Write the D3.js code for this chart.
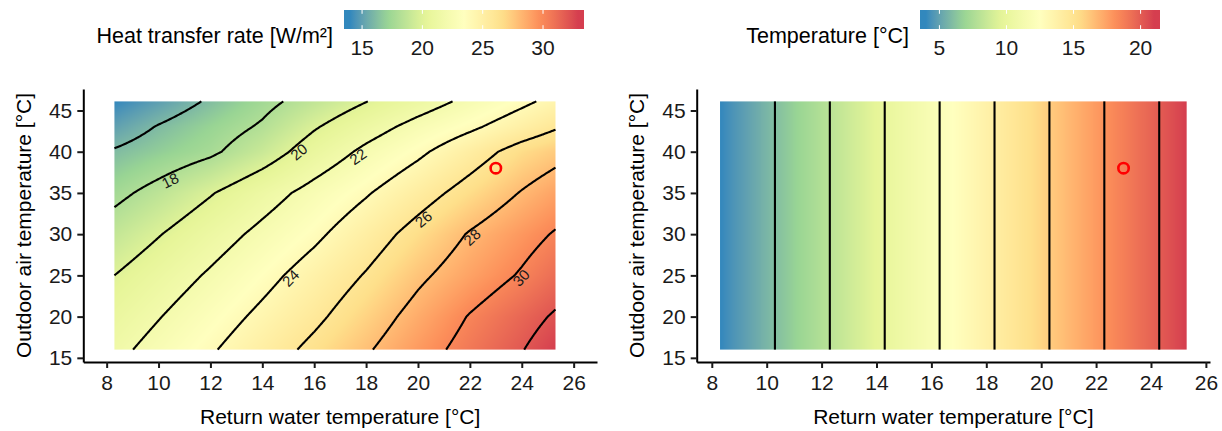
<!DOCTYPE html>
<html><head><meta charset="utf-8">
<script src="https://cdn.jsdelivr.net/npm/d3@7"></script>
<style>
body{margin:0;background:#fff;}
svg{display:block;font-family:"Liberation Sans",Arial,sans-serif;}
</style>
</head><body>
<svg id="chart" width="1222" height="431"></svg>
<script>
// ---------------- data ----------------
const heatX = [8.3, 10, 12, 14, 16, 18, 20, 22, 24, 25.3];      // return water temperature [°C]
const heatY = [16, 20, 25, 30, 35, 40, 43, 46.1];                // outdoor air temperature [°C]
const heatRows = [                                               // heat transfer rate [W/m²], one row per heatY
  [21.56, 22.60, 23.82, 25.10, 26.43, 27.81, 29.25, 30.63, 31.93, 32.90],
  [20.90, 21.92, 23.14, 24.38, 25.63, 27.08, 28.61, 30.10, 31.36, 32.19],
  [20.00, 21.01, 22.21, 23.46, 24.76, 26.12, 27.66, 28.95, 30.17, 31.10],
  [18.85, 19.91, 21.18, 22.43, 23.65, 25.10, 26.64, 28.13, 29.35, 30.14],
  [17.55, 18.58, 19.88, 21.25, 22.58, 23.85, 25.25, 26.68, 28.10, 28.95],
  [16.15, 16.86, 17.70, 19.09, 20.85, 22.37, 23.67, 25.16, 26.70, 27.40],
  [15.05, 16.11, 17.13, 18.21, 19.85, 21.25, 22.56, 23.70, 24.97, 25.83],
  [14.00, 14.96, 16.22, 17.50, 18.74, 19.96, 21.18, 22.41, 23.65, 24.46]
];
const heatBreaks = [16, 18, 20, 22, 24, 26, 28, 30, 32];
const heatLabelLevels = [18, 20, 22, 24, 26, 28, 30];
const tempX = [8.3, 10.3, 12.3, 14.3, 16.3, 18.3, 20.3, 22.3, 24.3, 25.3];
const tempValues = [4, 6, 8, 10, 12, 14, 16, 18, 20, 21];
const tempBreaks = [6, 8, 10, 12, 14, 16, 18, 20];
const xTicks = [8, 10, 12, 14, 16, 18, 20, 22, 24, 26];
const yTicks = [15, 20, 25, 30, 35, 40, 45];
const heatLegendTicks = [15, 20, 25, 30];
const tempLegendTicks = [5, 10, 15, 20];
const markerPoint = [23, 38];
const heatLegendTitle = "Heat transfer rate [W/m²]";
const tempLegendTitle = "Temperature [°C]";
const xTitle = "Return water temperature [°C]";
const yTitle = "Outdoor air temperature [°C]";

// ---------------- layout / style ----------------
const labelPlacement = {18: 0.31, 20: 0.72, 22: 0.73, 24: 0.25, 26: 0.53, 28: 0.58, 30: 0.64};
const labelOffset = 6.5;
const spectral = ["#3288bd", "#99d594", "#e6f598", "#ffffbf", "#fee08b", "#fc8d59", "#d53e4f"];
const svg = d3.select("#chart");
const defs = svg.append("defs");

function expand(d, f = 0.05) { const r = d[1] - d[0]; return [d[0] - r * f, d[1] + r * f]; }

function bilinear(x, y) {
  const i = Math.max(0, Math.min(heatX.length - 2, d3.bisectRight(heatX, x) - 1));
  const j = Math.max(0, Math.min(heatY.length - 2, d3.bisectRight(heatY, y) - 1));
  const tx = (x - heatX[i]) / (heatX[i + 1] - heatX[i]);
  const ty = (y - heatY[j]) / (heatY[j + 1] - heatY[j]);
  const r0 = heatRows[j], r1 = heatRows[j + 1];
  return (r0[i] * (1 - tx) + r0[i + 1] * tx) * (1 - ty) + (r1[i] * (1 - tx) + r1[i + 1] * tx) * ty;
}
const tempScale = d3.scaleLinear().domain(tempX).range(tempValues);
function tempAt(x, y) { return tempScale(x); }

function marching(vals, nx, ny, t) {
  const pts = new Map(), segs = [];
  const V = (i, j) => vals[j * nx + i];
  function cross(key, ia, ja, ib, jb) {
    if (!pts.has(key)) {
      const va = V(ia, ja), vb = V(ib, jb), f = (t - va) / (vb - va);
      pts.set(key, [ia + (ib - ia) * f, ja + (jb - ja) * f]);
    }
    return key;
  }
  for (let j = 0; j < ny - 1; j++) for (let i = 0; i < nx - 1; i++) {
    const a = V(i, j) >= t, b = V(i + 1, j) >= t, c = V(i + 1, j + 1) >= t, d = V(i, j + 1) >= t;
    const eb = a !== b ? cross(`h${i},${j}`, i, j, i + 1, j) : null;
    const er = b !== c ? cross(`v${i + 1},${j}`, i + 1, j, i + 1, j + 1) : null;
    const et = d !== c ? cross(`h${i},${j + 1}`, i, j + 1, i + 1, j + 1) : null;
    const el = a !== d ? cross(`v${i},${j}`, i, j, i, j + 1) : null;
    const list = [eb, er, et, el].filter(k => k !== null);
    if (list.length === 2) segs.push(list);
    else if (list.length === 4) {
      const center = (V(i, j) + V(i + 1, j) + V(i + 1, j + 1) + V(i, j + 1)) / 4 >= t;
      if (center === a) { segs.push([eb, er]); segs.push([et, el]); }
      else { segs.push([eb, el]); segs.push([er, et]); }
    }
  }
  const adj = new Map();
  segs.forEach((s, k) => s.forEach(key => { if (!adj.has(key)) adj.set(key, []); adj.get(key).push(k); }));
  const used = new Array(segs.length).fill(false), lines = [];
  function walk(startKey) {
    const line = [startKey]; let key = startKey;
    while (true) {
      const nxt = (adj.get(key) || []).find(k => !used[k]);
      if (nxt === undefined) break;
      used[nxt] = true;
      const s = segs[nxt]; key = s[0] === key ? s[1] : s[0];
      line.push(key);
    }
    return line.map(k => pts.get(k));
  }
  for (const [key, list] of adj) if (list.length === 1 && !used[list[0]]) lines.push(walk(key));
  segs.forEach((s, k) => { if (!used[k]) lines.push(walk(s[0])); });
  return lines;
}

function pointAt(poly, frac) {
  const cum = [0];
  for (let k = 1; k < poly.length; k++) cum.push(cum[k - 1] + Math.hypot(poly[k][0] - poly[k - 1][0], poly[k][1] - poly[k - 1][1]));
  const total = cum[cum.length - 1];
  const at = s => {
    s = Math.max(0, Math.min(total, s));
    let k = d3.bisectRight(cum, s) - 1; k = Math.max(0, Math.min(poly.length - 2, k));
    const f = (s - cum[k]) / ((cum[k + 1] - cum[k]) || 1);
    return [poly[k][0] + (poly[k + 1][0] - poly[k][0]) * f, poly[k][1] + (poly[k + 1][1] - poly[k][1]) * f];
  };
  const s = total * frac, p = at(s), p0 = at(s - 9), p1 = at(s + 9);
  let ang = Math.atan2(p1[1] - p0[1], p1[0] - p0[0]) * 180 / Math.PI;
  if (ang > 90) ang -= 180; if (ang < -90) ang += 180;
  return {p, ang};
}

function panel(opts) {
  const {id, range, xDom, field, xExt, breaks, labels, legendX, legendTicks, legendTitle} = opts;
  const x = d3.scaleLinear().domain(xDom).range(range);
  const y = d3.scaleLinear().domain(expand(d3.extent(heatY))).range([362, 89]);
  const yExt = d3.extent(heatY);

  // values on fine grid
  const nx = 171, ny = 302;
  const gx = d3.scaleLinear().domain([0, nx - 1]).range(xExt);
  const gy = d3.scaleLinear().domain([0, ny - 1]).range(yExt);
  const vals = new Float64Array(nx * ny);
  for (let j = 0; j < ny; j++) for (let i = 0; i < nx; i++) vals[j * nx + i] = field(gx(i), gy(j));
  const ext = d3.extent(vals);
  const color = d3.scaleSequential(d3.piecewise(d3.interpolateLab, spectral)).domain(ext);

  // raster
  const px0 = x(xExt[0]), px1 = x(xExt[1]), pyTop = y(yExt[1]), pyBot = y(yExt[0]);
  const w = Math.round(px1 - px0), h = Math.round(pyBot - pyTop);
  const cv = document.createElement("canvas"); cv.width = w; cv.height = h;
  const ctx = cv.getContext("2d"), img = ctx.createImageData(w, h);
  for (let j = 0; j < h; j++) for (let i = 0; i < w; i++) {
    const dx = x.invert(px0 + (i + 0.5) * (px1 - px0) / w), dy = y.invert(pyTop + (j + 0.5) * (pyBot - pyTop) / h);
    const c = d3.rgb(color(field(dx, dy))), o = (j * w + i) * 4;
    img.data[o] = c.r; img.data[o + 1] = c.g; img.data[o + 2] = c.b; img.data[o + 3] = 255;
  }
  ctx.putImageData(img, 0, 0);
  svg.append("image").attr("href", cv.toDataURL()).attr("x", px0).attr("y", pyTop)
    .attr("width", px1 - px0).attr("height", pyBot - pyTop).attr("preserveAspectRatio", "none");

  // contours
  const cg = svg.append("g");
  const lg = svg.append("g");
  const line = d3.line();
  breaks.forEach(t => {
    const polys = marching(vals, nx, ny, t).map(p => p.map(([i, j]) => [x(gx(i)), y(gy(j))]));
    polys.forEach(p => cg.append("path").attr("d", line(p)).attr("fill", "none")
      .attr("stroke", "#000").attr("stroke-width", 2.1).attr("stroke-linejoin", "round"));
    if (labels.includes(t) && polys.length) {
      const longest = polys.reduce((a, b) => (b.length > a.length ? b : a));
      const {p, ang} = pointAt(longest, labelPlacement[t]);
      lg.append("text").attr("transform", `translate(${p[0]},${p[1]}) rotate(${ang}) translate(0,${labelOffset})`)
        .attr("text-anchor", "middle").attr("dy", "0.36em")
        .style("font-size", "15px").attr("fill", "#1a1a1a").text(t);
    }
  });

  // marker
  svg.append("circle").attr("cx", x(markerPoint[0])).attr("cy", y(markerPoint[1])).attr("r", 5.2)
    .attr("fill", "none").attr("stroke", "#ff0000").attr("stroke-width", 2.6);

  // axes
  const ax = svg.append("g").attr("transform", "translate(0,362)")
    .call(d3.axisBottom(x).tickValues(xTicks).tickSize(6).tickSizeOuter(0).tickPadding(7));
  const ay = svg.append("g").attr("transform", `translate(${range[0]},0)`)
    .call(d3.axisLeft(y).tickValues(yTicks).tickSize(6).tickSizeOuter(0).tickPadding(5));
  [ax, ay].forEach(g => {
    g.select(".domain").attr("stroke", "#000").attr("stroke-width", 2);
    g.selectAll(".tick line").attr("stroke", "#1a1a1a").attr("stroke-width", 2);
    g.selectAll(".tick text").style("font-size", "21px").attr("fill", "#1a1a1a").style("font-family", "Liberation Sans, Arial, sans-serif");
  });
  svg.append("text").attr("x", (range[0] + range[1]) / 2).attr("y", 424).attr("text-anchor", "middle")
    .style("font-size", "21px").text(xTitle);
  svg.append("text").attr("transform", `translate(${range[0] - 52.8},${(89 + 362) / 2}) rotate(-90)`)
    .attr("text-anchor", "middle").style("font-size", "21px").text(yTitle);

  // legend
  const barW = 240, barH = 19, barY = 10;
  const ls = d3.scaleLinear().domain(ext).range([legendX + 6, legendX + barW - 6]);
  const gid = "grad-" + id;
  const grad = defs.append("linearGradient").attr("id", gid).attr("x1", 0).attr("x2", 1).attr("y1", 0).attr("y2", 0);
  d3.range(0, 41).forEach(k => {
    const v = ext[0] + (ext[1] - ext[0]) * k / 40;
    grad.append("stop").attr("offset", (ls(v) - legendX) / barW).attr("stop-color", color(v));
  });
  svg.append("rect").attr("x", legendX).attr("y", barY).attr("width", barW).attr("height", barH).attr("fill", `url(#${gid})`);
  legendTicks.forEach(v => {
    svg.append("line").attr("x1", ls(v)).attr("x2", ls(v)).attr("y1", barY).attr("y2", barY + barH / 5).attr("stroke", "#fff").attr("stroke-width", 1);
    svg.append("line").attr("x1", ls(v)).attr("x2", ls(v)).attr("y1", barY + barH * 4 / 5).attr("y2", barY + barH).attr("stroke", "#fff").attr("stroke-width", 1);
    svg.append("text").attr("x", ls(v)).attr("y", 55).attr("text-anchor", "middle").style("font-size", "21px").attr("fill", "#1a1a1a").text(v);
  });
  svg.append("text").attr("x", legendX - 11).attr("y", 42.5).attr("text-anchor", "end").style("font-size", "21.5px").text(legendTitle);
}

panel({id: "heat", range: [83.3, 597], xDom: expand(d3.extent(xTicks)), field: bilinear, xExt: d3.extent(heatX),
  breaks: heatBreaks, labels: heatLabelLevels, legendX: 344, legendTicks: heatLegendTicks, legendTitle: heatLegendTitle});
panel({id: "temp", range: [696.7, 1210], xDom: expand(d3.extent(tempX)), field: tempAt, xExt: d3.extent(tempX),
  breaks: tempBreaks, labels: [], legendX: 920, legendTicks: tempLegendTicks, legendTitle: tempLegendTitle});
</script>
</body></html>
